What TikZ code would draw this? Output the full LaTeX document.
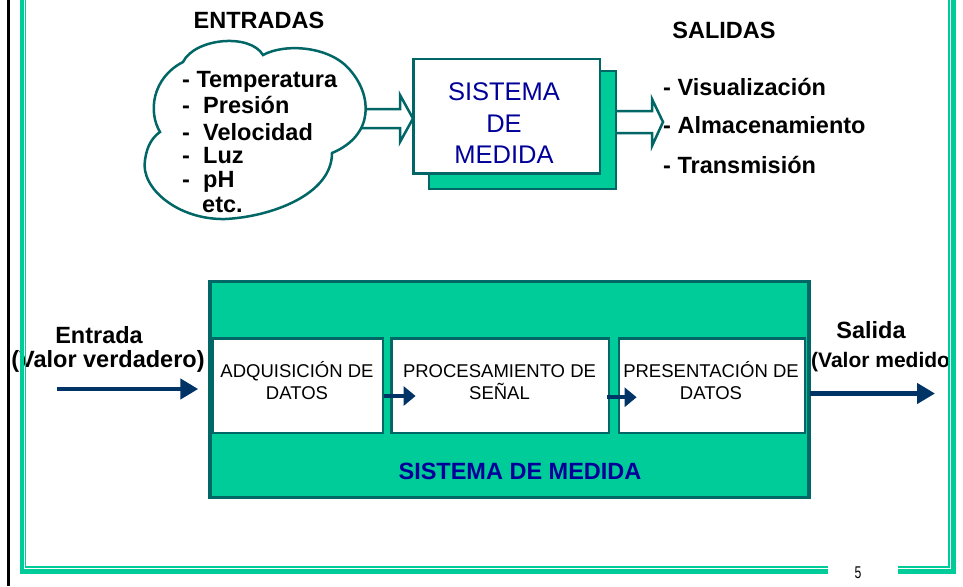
\documentclass[tikz,border=0pt]{standalone}
\usepackage{fontspec}
\setmainfont{Liberation Sans}
\usepackage{graphicx}
\usetikzlibrary{arrows.meta,calc}
\definecolor{teal1}{RGB}{0,102,102}
\definecolor{green1}{RGB}{0,204,153}
\definecolor{navy1}{RGB}{0,51,102}
\definecolor{blue1}{RGB}{0,0,153}
\begin{document}
\begin{tikzpicture}[x=1pt,y=-1pt,
  bold/.style={font=\fontsize{23.5}{28}\selectfont\bfseries, inner sep=0pt},
  boldsm/.style={font=\fontsize{21}{25}\selectfont\bfseries, inner sep=0pt},
  sysbig/.style={font=\fontsize{25.5}{30}\selectfont, text=blue1, inner sep=0pt},
  boxtxt/.style={font=\fontsize{18.5}{22}\selectfont, inner sep=0pt},
  tealbox/.style={draw=teal1, line width=2.8pt, inner sep=0pt},
  innerbox/.style={draw=teal1, line width=2.8pt, fill=white, inner sep=0pt, minimum height=94.5},
  navyarrow/.style={draw=navy1, line width=4pt, -{Triangle[length=12pt,width=19pt]}},
  bigarrow/.style={draw=navy1, line width=4.5pt, -{Triangle[length=18pt,width=20pt]}},
  hollow/.style={draw=teal1, line width=2.5pt, fill=white, line join=miter},
  frthick/.style={draw=green1, line width=4.5pt},
  frthin/.style={draw=green1, line width=1.5pt}
]
\useasboundingbox (0,0) rectangle (963,586);
\fill[white] (0,0) rectangle (963,586);

% ---------- top part ----------
\node[bold, anchor=base] (entradas) at (259,29) {ENTRADAS};
\node[bold, anchor=base] (salidas) at (724,39) {SALIDAS};

% hollow arrow cloud -> box
\draw[hollow] (355,109) -- (400,109) -- (400,95) -- (413,118.5) -- (400,142) -- (400,128) -- (355,128);

% cloud
\draw[draw=teal1, line width=2.5pt, fill=white]
  (183,62) .. controls (195,38) and (250,33) .. (263,55)
  .. controls (285,43) and (330,46) .. (350,70)
  .. controls (372,95) and (375,135) .. (332,153)
  .. controls (332,195) and (270,217) .. (225,219)
  .. controls (178,220) and (140,188) .. (145,160)
  .. controls (147,145) and (153,137) .. (160,132)
  .. controls (148,112) and (152,78) .. (183,62) -- cycle;

\node[bold, anchor=base west] (t1) at (182,87) {- Temperatura};
\node[bold, anchor=base west] (d2) at (182,113) {-};
\node[bold, anchor=base west] (t2) at (203,113) {Presión};
\node[bold, anchor=base west] (d3) at (182,140) {-};
\node[bold, anchor=base west] (t3) at (203,140) {Velocidad};
\node[bold, anchor=base west] (d4) at (182,163) {-};
\node[bold, anchor=base west] (t4) at (203,163) {Luz};
\node[bold, anchor=base west] (d5) at (182,187) {-};
\node[bold, anchor=base west] (t5) at (203,187) {pH};
\node[bold, anchor=base west] (t6) at (202,212) {etc.};

% hollow arrow box -> outputs
\draw[hollow] (610,111) -- (652,111) -- (652,99) -- (663,122) -- (652,146) -- (652,133) -- (610,133);

% system box with shadow
\node[tealbox, fill=green1, minimum width=187, minimum height=118] (shadow) at (522.5,130) {};
\node[tealbox, fill=white, minimum width=186.5, minimum height=114.5] (sm) at (506.75,116.25) {};
\node[sysbig, anchor=base] (sm1) at (504,100) {SISTEMA};
\node[sysbig, anchor=base] (sm2) at (504,132) {DE};
\node[sysbig, anchor=base] (sm3) at (504,163) {MEDIDA};

\node[bold, anchor=base west] (o1) at (663,95) {- Visualización};
\node[bold, anchor=base west] (o2) at (663,133) {- Almacenamiento};
\node[bold, anchor=base west] (o3) at (663,173) {- Transmisión};

% ---------- bottom part ----------
\node[draw=teal1, line width=3.5pt, fill=green1, inner sep=0pt, minimum width=599, minimum height=216] (big) at (509.5,389.5) {};
\node[innerbox, minimum width=170.5] (b1) at (297.75,385.75) {};
\node[innerbox, minimum width=217.5] (b2) at (500.25,385.75) {};
\node[innerbox, minimum width=186] (b3) at (712,385.75) {};

\node[boxtxt, anchor=base] (b1a) at (297,377) {ADQUISICIÓN DE};
\node[boxtxt, anchor=base] (b1b) at (297,399) {DATOS};
\node[boxtxt, anchor=base] (b2a) at (499.5,377) {PROCESAMIENTO DE};
\node[boxtxt, anchor=base] (b2b) at (499.5,399) {SEÑAL};
\node[boxtxt, anchor=base] (b3a) at (711,377) {PRESENTACIÓN DE};
\node[boxtxt, anchor=base] (b3b) at (711,399) {DATOS};

\draw[navyarrow] ($(b1.east)+(0,10.25)$) -- ($(b2.west)+(25.5,10.25)$);
\draw[navyarrow] ($(b2.east)+(-3,11.5)$) -- ($(b3.west)+(19,11.5)$);

\node[bold, anchor=base, text=blue1] (sdm) at (520,479) {SISTEMA DE MEDIDA};

\node[bold, anchor=base] (ent) at (99,343) {Entrada};
\node[bold, anchor=base] (entv) at (108,367) {(Valor verdadero)};
\coordinate (inS) at (57,389);
\draw[bigarrow] (inS) -- ($(big.west)+(-10,-0.5)$);

\node[bold, anchor=base] (sal) at (871,338) {Salida};
\node[boldsm, anchor=base west] (salv) at (811,367) {(Valor medido};
\coordinate (outE) at (935,393.5);
\draw[bigarrow] ($(big.east)+(-1,4)$) -- (outE);

% ---------- slide frame ----------
\draw[black, line width=2.5pt] (8.7,0) -- (8.7,586);
\draw[frthick] (22,0) -- (22,571.5) -- (828,571.5);
\draw[frthick] (898,571.5) -- (953.5,571.5) -- (953.5,0);
\draw[frthin] (25.5,0) -- (25.5,566.8) -- (828,566.8);
\draw[frthin] (898,566.8) -- (949,566.8) -- (949,0);
\node[inner sep=0pt, anchor=base] (pg) at (858,578) {\scalebox{0.72}[1]{\fontsize{17}{17}\selectfont 5}};
\end{tikzpicture}
\end{document}
